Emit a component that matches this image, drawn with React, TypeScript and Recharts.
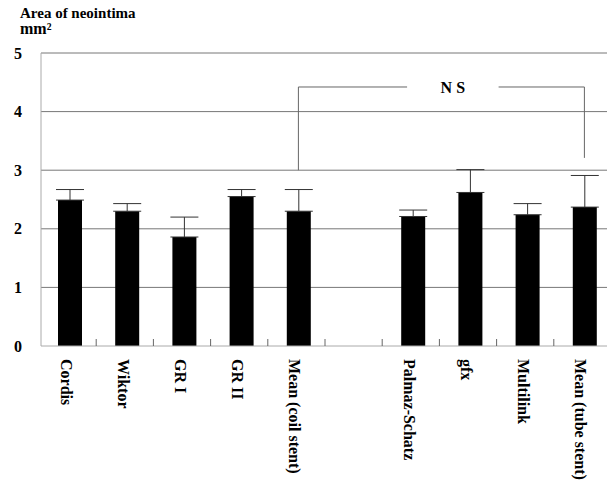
import React from 'react';
import { BarChart, Bar, XAxis, YAxis, CartesianGrid, ErrorBar, ReferenceLine } from 'recharts';

const categories = ['Cordis', 'Wiktor', 'GR I', 'GR II', 'Mean (coil stent)', '', 'Palmaz-Schatz', 'gfx', 'Multilink', 'Mean (tube stent)'];
const means = [2.49, 2.3, 1.86, 2.55, 2.3, null, 2.21, 2.62, 2.24, 2.37];
const upperErr = [2.67, 2.43, 2.2, 2.67, 2.67, null, 2.32, 3.01, 2.43, 2.91];
const yTicks = [0, 1, 2, 3, 4, 5];
const gridValues = [1, 2, 3, 4, 5];
// slot-index space: category i is centered at i + 0.5
const slotDomain = [0, 10];
const bracketY = 4.42;
const bracketLeftX = 4.5;
const bracketLeftBottom = 3.0;
const bracketRightX = 9.5;
const bracketRightBottom = 3.21;
const bracketGapStart = 6.4;
const bracketGapEnd = 8.0;
const nsLabel = 'N S';
const titleLine1 = 'Area of neointima';
const titleLine2 = 'mm²';

const data = categories.map((c, i) => ({
  name: c,
  slot: i + 0.5,
  value: means[i],
  err: means[i] == null ? null : [0, +(upperErr[i]! - means[i]!).toFixed(3)],
}));

const FONT = '"Liberation Serif", "Times New Roman", serif';

const CatTick = (props: any) => {
  const { x, y, payload, index, width, visibleTicksCount } = props;
  const half = width && visibleTicksCount ? width / visibleTicksCount / 2 : 0;
  const axisY = y - 13;
  return (
    <g>
      {index > 0 && half > 0 ? (
        <line x1={x - half - 2} x2={x - half - 2} y1={axisY} y2={axisY - 7} stroke="#666" />
      ) : null}
      <text
        x={x}
        y={y}
        dy={9}
        transform={`rotate(90 ${x} ${y})`}
        textAnchor="start"
        fontFamily={FONT}
        fontWeight="bold"
        fontSize={16}
        fill="#000"
      >
        {payload.value}
      </text>
    </g>
  );
};

export default function App() {
  return (
    <div style={{ position: 'absolute', left: 0, top: 0, width: 607, height: 482, overflow: 'hidden', background: '#fff' }}>
      <div style={{ position: 'absolute', left: 20, top: 6, fontFamily: FONT, fontWeight: 'bold', fontSize: 15, lineHeight: '15px', color: '#000' }}>
        <div>{titleLine1}</div>
        <div style={{ fontSize: 16 }}>{titleLine2}</div>
      </div>
      <BarChart width={613} height={482} data={data} margin={{ top: 53, right: 0, left: 0, bottom: 0 }}>
        <CartesianGrid vertical={false} horizontalValues={gridValues} stroke="#777" strokeWidth={1} />
        <XAxis
          dataKey="name"
          height={136}
          axisLine={{ stroke: '#aaa' }}
          tickLine={false}
          tickSize={6}
          tickMargin={7}
          tick={<CatTick />}
          interval={0}
        />
        <XAxis xAxisId="n" dataKey="slot" type="number" domain={slotDomain} allowDataOverflow hide />
        <YAxis
          width={41}
          domain={[0, 5]}
          ticks={yTicks}
          axisLine={{ stroke: '#aaa' }}
          tickLine={false}
          tickMargin={13}
          tick={{ fontFamily: FONT, fontWeight: 'bold', fontSize: 16, fill: '#000' }}
        />
        <Bar dataKey="value" fill="#000" barSize={24} isAnimationActive={false}>
          <ErrorBar dataKey="err" width={14} stroke="#333" strokeWidth={1} direction="y" />
        </Bar>
        <ReferenceLine xAxisId="n" ifOverflow="visible" segment={[{ x: bracketLeftX, y: bracketLeftBottom }, { x: bracketLeftX, y: bracketY }]} stroke="#666" />
        <ReferenceLine xAxisId="n" ifOverflow="visible" segment={[{ x: bracketLeftX, y: bracketY }, { x: bracketGapStart, y: bracketY }]} stroke="#666" />
        <ReferenceLine
          xAxisId="n"
          ifOverflow="visible"
          segment={[{ x: bracketGapStart, y: bracketY }, { x: bracketGapEnd, y: bracketY }]}
          stroke="none"
          label={{ value: nsLabel, position: 'center', fontFamily: FONT, fontWeight: 'bold', fontSize: 16, fill: '#000' }}
        />
        <ReferenceLine xAxisId="n" ifOverflow="visible" segment={[{ x: bracketGapEnd, y: bracketY }, { x: bracketRightX, y: bracketY }]} stroke="#666" />
        <ReferenceLine xAxisId="n" ifOverflow="visible" segment={[{ x: bracketRightX, y: bracketY }, { x: bracketRightX, y: bracketRightBottom }]} stroke="#666" />
      </BarChart>
    </div>
  );
}
